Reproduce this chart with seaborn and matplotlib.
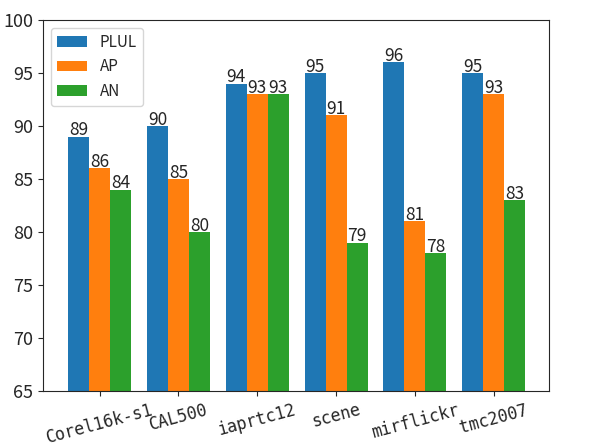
import pandas as pd
import seaborn as sns
import matplotlib.pyplot as plt

# Data
datasets = ["Corel16k-s1", "CAL500", "iaprtc12", "scene", "mirflickr", "tmc2007"]
plul = [89, 90, 94, 95, 96, 95]
ap = [86, 85, 93, 91, 81, 93]
an = [84, 80, 93, 79, 78, 83]
methods = ["PLUL", "AP", "AN"]

df = pd.DataFrame({
    "Dataset": datasets * 3,
    "Method": [m for m in methods for _ in datasets],
    "Score": plul + ap + an,
})

sns.set_style("ticks")
plt.rcParams["font.family"] = ["Noto Sans CJK SC", "DejaVu Sans"]

fig, ax = plt.subplots(figsize=(6.05, 4.43), dpi=100)
fig.subplots_adjust(left=0.071, right=0.907, top=0.955, bottom=0.117)

sns.barplot(data=df, x="Dataset", y="Score", hue="Method",
            palette=["#1f77b4", "#ff7f0e", "#2ca02c"], width=0.8,
            saturation=1, linewidth=0, ax=ax)

for cont in ax.containers:
    ax.bar_label(cont, fmt="%d", fontsize=12.5, padding=-2)

ax.set_ylim(65, 100)
ax.set_xlim(-0.72, 5.7)
ax.set_xlabel("")
ax.set_ylabel("")
ax.tick_params(axis="y", labelsize=13)
ax.tick_params(axis="x", labelsize=12)
plt.setp(ax.get_xticklabels(), rotation=15, family="DejaVu Sans Mono")
ax.legend(title=None, loc="upper left", fontsize=11)

plt.savefig("out.png")
